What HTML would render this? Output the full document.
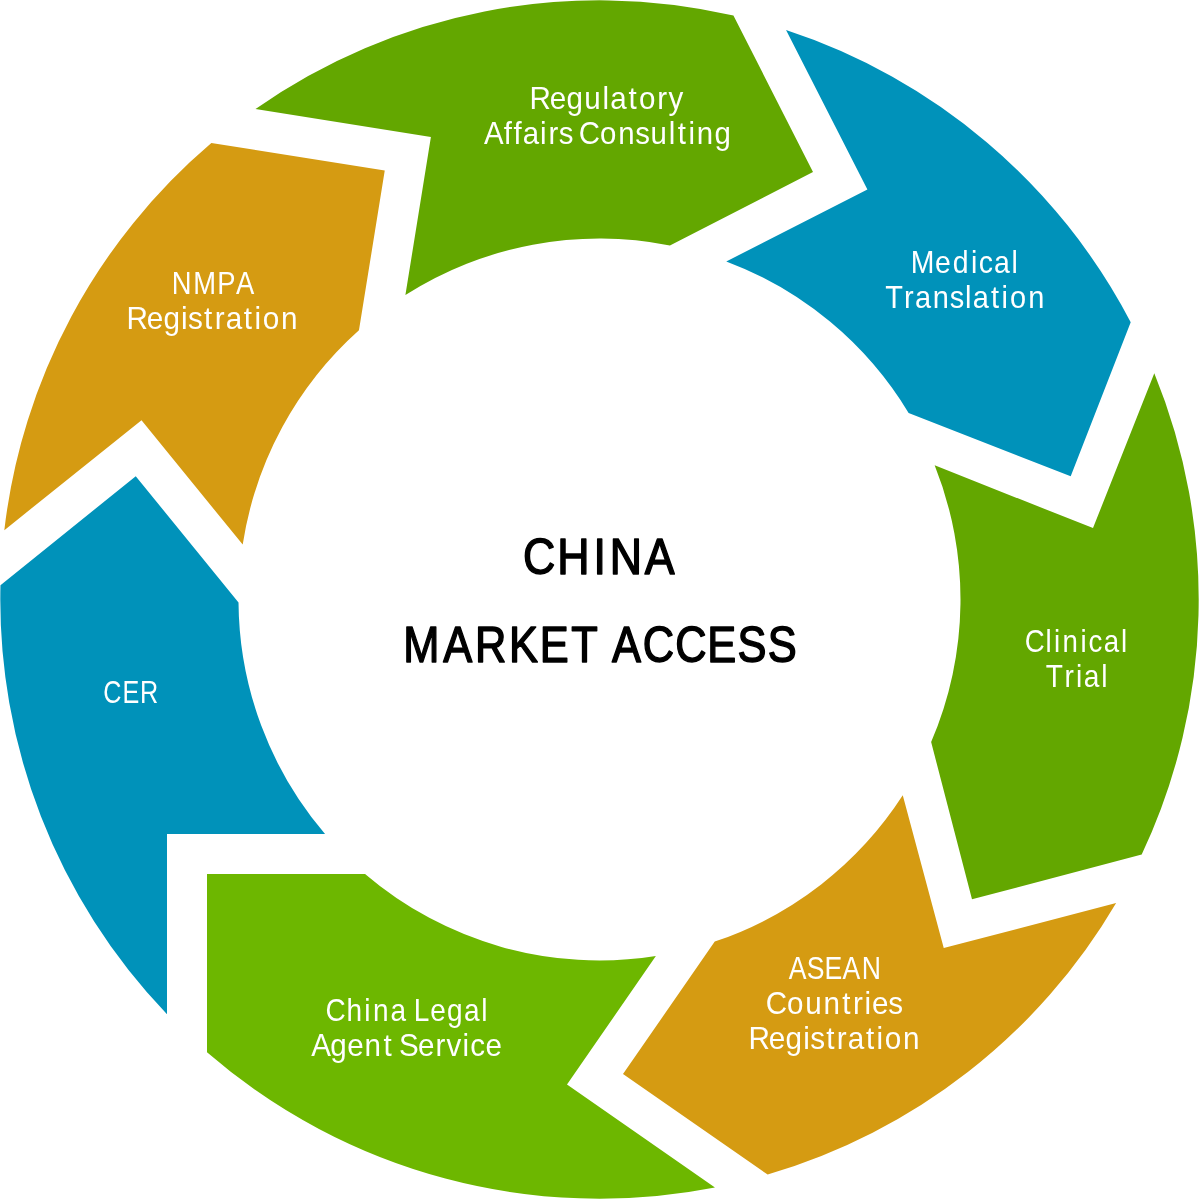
<!DOCTYPE html>
<html lang="en">
<head>
<meta charset="utf-8">
<title>China Market Access</title>
<style>
html,body{margin:0;padding:0;background:#fff;}
body{width:1200px;height:1200px;overflow:hidden;}
svg{display:block;will-change:transform;}
text{font-family:"Liberation Sans",sans-serif;font-weight:400;font-kerning:none;}
text.l{font-size:32px;fill:#fff;}
text.c{font-size:50.4px;fill:#000;stroke:#000;stroke-width:1.5px;stroke-linejoin:round;}
</style>
</head>
<body>
<svg width="1200" height="1200" viewBox="0 0 1200 1200" role="img" aria-label="China Market Access service cycle">
<g id="regulatory-affairs-consulting">
  <path fill="#63a700" d="M255.50 108.89 A599.2 599.2 0 0 1 733.43 15.46 L813.00 172.00 L669.94 245.44 A361 361 0 0 0 405.40 295.12 L430.90 137.10 Z"/>
  <text class="l" transform="scale(0.9244 1)" x="572.86 594.81 612.95 631.96 651.76 660.16 679.87 691.36 711.06 723.14" y="109">Regulatory</text>
  <text class="l" transform="scale(0.9186 1)" x="526.83 548.29 558.91 568.95 587.98 597.03 608.34 623.19 630.16 653.13 672.98 691.48 708.14 728.03 737.93 749.47 758.57 777.74" y="144">Affairs Consulting</text>
</g>
<g id="medical-translation">
  <path fill="#0092ba" d="M786.04 30.08 A599.2 599.2 0 0 1 1130.70 322.24 L1070.70 476.20 L908.61 413.03 A361 361 0 0 0 726.28 261.49 L867.40 189.40 Z"/>
  <text class="l" transform="scale(0.8879 1)" x="1025.66 1053.16 1073.00 1093.46 1102.28 1119.51 1139.16" y="273">Medical</text>
  <text class="l" transform="scale(0.9048 1)" x="978.35 999.15 1011.35 1030.80 1049.57 1066.48 1075.18 1095.21 1106.91 1116.18 1136.34" y="308">Translation</text>
</g>
<g id="clinical-trial">
  <path fill="#63a700" d="M1154.30 373.13 A599.2 599.2 0 0 1 1141.69 854.58 L972.00 899.25 L931.14 742.09 A361 361 0 0 0 934.65 465.36 L1093.00 528.10 Z"/>
  <text class="l" transform="scale(0.8646 1)" x="1185.31 1209.31 1219.01 1229.02 1249.72 1258.89 1276.61 1296.65" y="652">Clinical</text>
  <text class="l" transform="scale(0.8782 1)" x="1190.75 1212.06 1225.15 1234.12 1253.94" y="687">Trial</text>
</g>
<g id="asean-countries-registration">
  <path fill="#d59b12" d="M1116.13 903.03 A599.2 599.2 0 0 1 767.67 1174.62 L623.00 1074.00 L714.75 941.61 A361 361 0 0 0 902.76 795.35 L943.75 948.00 Z"/>
  <text class="l" transform="scale(0.8320 1)" x="948.06 969.77 991.13 1012.71 1035.83" y="979">ASEAN</text>
  <text class="l" transform="scale(0.9250 1)" x="827.93 850.76 870.43 890.17 910.63 922.15 934.68 942.78 960.25" y="1014">Countries</text>
  <text class="l" transform="scale(0.9276 1)" x="806.97 828.85 846.93 865.84 873.41 890.63 902.12 913.93 933.58 945.02 953.92 973.58" y="1049">Registration</text>
</g>
<g id="china-legal-agent-service">
  <path fill="#6db700" d="M714.96 1187.47 A599.2 599.2 0 0 1 207.00 1052.25 L207.00 874.00 L365.04 874.00 A361 361 0 0 0 655.87 956.07 L567.00 1084.50 Z"/>
  <text class="l" transform="scale(0.8760 1)" x="371.52 395.50 415.94 425.75 445.84 463.77 472.44 491.23 510.37 529.67 549.52" y="1021">China Legal</text>
  <text class="l" transform="scale(0.9243 1)" x="336.64 357.43 375.58 394.47 414.94 424.69 431.77 452.21 471.07 483.15 500.51 508.80 525.17" y="1056">Agent Service</text>
</g>
<g id="cer">
  <path fill="#0092ba" d="M167.00 1014.21 A599.2 599.2 0 0 1 0.47 585.13 L135.75 476.25 L238.51 602.40 A361 361 0 0 0 325.04 834.00 L167.00 834.00 Z"/>
  <text class="l" transform="scale(0.7874 1)" x="131.25 155.51 177.94" y="703">CER</text>
</g>
<g id="nmpa-registration">
  <path fill="#d59b12" d="M4.33 530.14 A599.2 599.2 0 0 1 211.35 143.02 L384.75 170.60 L358.95 330.32 A361 361 0 0 0 242.70 544.61 L141.50 420.25 Z"/>
  <text class="l" transform="scale(0.8563 1)" x="200.65 225.76 253.73 275.47" y="294">NMPA</text>
  <text class="l" transform="scale(0.9276 1)" x="136.29 158.18 176.26 195.17 202.74 219.96 231.45 243.25 262.91 274.34 283.25 302.91" y="329">Registration</text>
</g>
<g id="title">
  <text class="c" transform="scale(0.8870 1)" x="589.61 628.34 669.17 687.33 726.96" y="574">CHINA</text>
  <text class="c" transform="scale(0.8618 1)" x="467.92 514.20 551.05 590.57 626.41 662.80 695.43 710.19 745.96 783.44 820.78 855.75 891.02" y="662">MARKET ACCESS</text>
</g>
</svg>
</body>
</html>
